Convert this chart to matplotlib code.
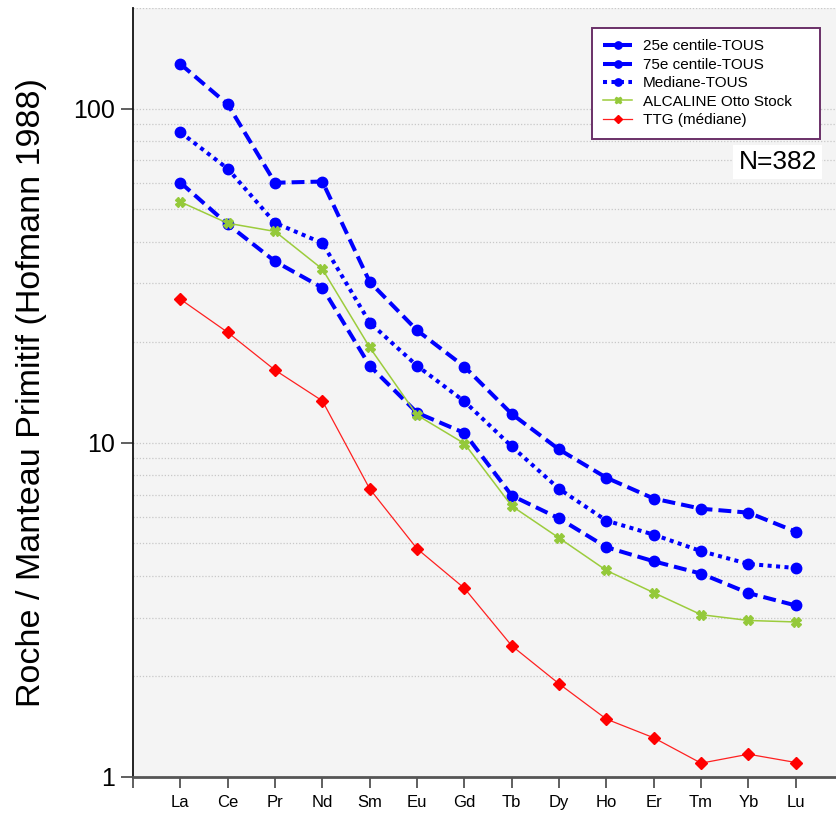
import matplotlib
matplotlib.use("Agg")
import matplotlib.pyplot as plt
from matplotlib.ticker import FixedLocator, NullFormatter, LogLocator, NullLocator

# Rare earth elements (spider diagram order)
elements = ["La", "Ce", "Pr", "Nd", "Sm", "Eu", "Gd", "Tb", "Dy", "Ho", "Er", "Tm", "Yb", "Lu"]

# Normalised concentrations (rock / primitive mantle, Hofmann 1988)
p75_tous = [136, 103, 60, 60.5, 30.3, 21.7, 16.9, 12.2, 9.55, 7.86, 6.81, 6.35, 6.18, 5.42]
p25_tous = [60.1, 45.1, 34.9, 29.1, 17.0, 12.3, 10.7, 6.95, 5.94, 4.87, 4.42, 4.06, 3.55, 3.26]
mediane_tous = [85.0, 66.1, 45.5, 39.6, 22.9, 17.0, 13.3, 9.75, 7.28, 5.85, 5.31, 4.74, 4.34, 4.22]
alcaline_otto = [52.6, 45.4, 42.9, 33.1, 19.3, 12.1, 9.95, 6.47, 5.19, 4.15, 3.56, 3.06, 2.94, 2.91]
ttg_mediane = [26.9, 21.4, 16.5, 13.35, 7.28, 4.82, 3.67, 2.47, 1.90, 1.49, 1.31, 1.10, 1.17, 1.105]

n_samples = 382

plt.rcParams["font.family"] = ["Liberation Sans", "DejaVu Sans"]

fig = plt.figure(figsize=(8.37, 8.14), dpi=100)
ax = fig.add_axes([133 / 837, 37 / 814, 704 / 837, 769 / 814])
ax.set_facecolor("#f4f4f4")

x = list(range(1, len(elements) + 1))
blue = "#0000ff"

ax.plot(x, p25_tous, color=blue, lw=2.9, dashes=(3.2, 1.5), marker="o", ms=7.5,
        label="25e centile-TOUS", zorder=4)
ax.plot(x, p75_tous, color=blue, lw=2.9, dashes=(3.2, 1.5), marker="o", ms=7.5,
        label="75e centile-TOUS", zorder=4)
ax.plot(x, mediane_tous, color=blue, lw=2.9, dashes=(1.0, 1.1), marker="o", ms=7.5,
        label="Mediane-TOUS", zorder=4)
ax.plot(x, alcaline_otto, color="#9ccc3c", lw=1.1, marker="X", ms=6.5,
        mfc="#94c93a", mec="#94c93a", label="ALCALINE Otto Stock", zorder=5)
ax.plot(x, ttg_mediane, color="#ff2020", lw=0.9, marker="D", ms=5.8,
        mfc="#ff0000", mec="#ff0000", label="TTG (médiane)", zorder=5)

ax.set_yscale("log")
ax.set_ylim(1, 200)
ax.set_xlim(0, 14.87)

# y axis: labelled decades, dotted grid at every 1-9 x 10^n
ax.yaxis.set_major_locator(FixedLocator([1, 10, 100]))
ax.set_yticklabels(["1", "10", "100"])
ax.yaxis.set_minor_locator(LogLocator(base=10, subs=range(2, 10)))
ax.yaxis.set_minor_formatter(NullFormatter())
ax.tick_params(axis="y", which="major", length=9, width=1.2, color="#444444",
               labelsize=18, pad=4)
ax.tick_params(axis="y", which="minor", length=0)
ax.grid(True, axis="y", which="both", color="#c8c8c8", lw=0.9, ls=(0, (1, 1.5)))
ax.set_axisbelow(True)

# x axis: element names
ax.set_xticks(range(0, len(elements) + 1))
ax.set_xticklabels([""] + elements)
ax.xaxis.set_minor_locator(NullLocator())
ax.tick_params(axis="x", length=8, width=1.2, color="#444444", labelsize=12, pad=5)

for side in ("top", "right"):
    ax.spines[side].set_visible(False)
ax.spines["left"].set_color("#111111")
ax.spines["left"].set_linewidth(1.3)
ax.spines["bottom"].set_color("#555555")
ax.spines["bottom"].set_linewidth(2)

ax.set_ylabel("Roche / Manteau Primitif (Hofmann 1988)", fontsize=24.5, labelpad=19)

leg = ax.legend(loc="upper left", bbox_to_anchor=(0.652, 0.0, 0.324, 0.974),
                mode="expand", borderaxespad=0,
                fontsize=11, handlelength=1.9, handletextpad=0.7, labelspacing=0.29,
                borderpad=0.75, fancybox=False, framealpha=1, markerscale=0.7)
leg.get_frame().set_edgecolor("#6a3068")
leg.get_frame().set_linewidth(1.4)
leg.get_frame().set_facecolor("white")

ax.text(0.916, 0.800, f"N={n_samples}", transform=ax.transAxes, fontsize=19,
        ha="center", va="center", zorder=6,
        bbox=dict(boxstyle="square,pad=0.2", fc="white", ec="none"))

fig.savefig("out.png", dpi=100)
